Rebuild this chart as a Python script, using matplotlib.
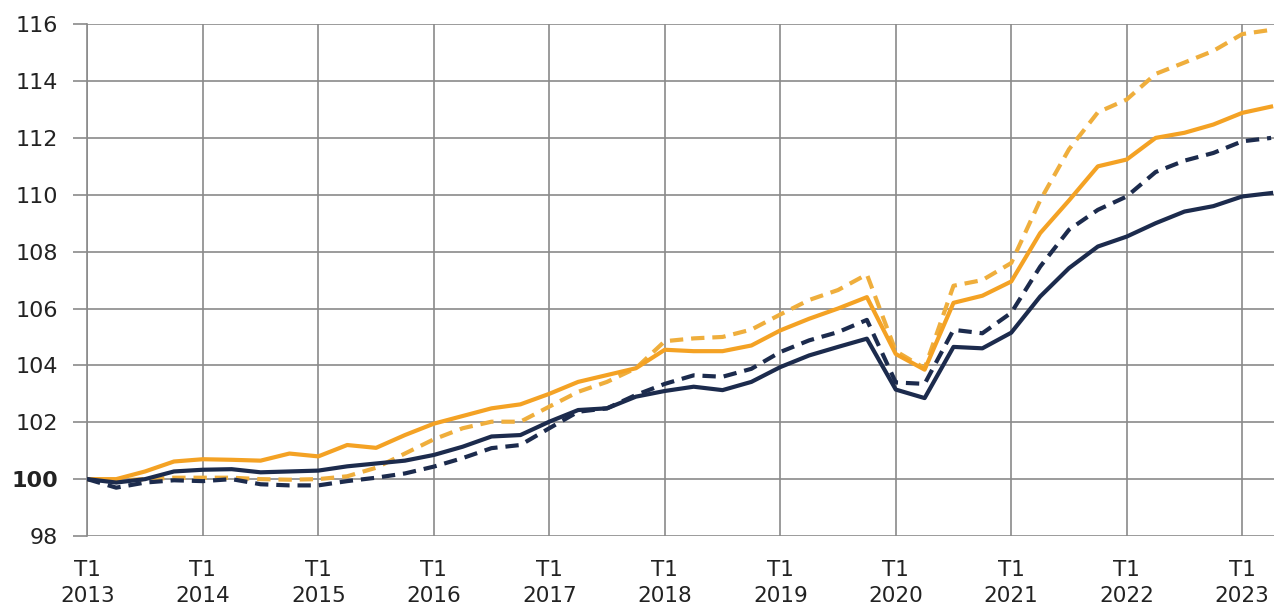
import matplotlib
matplotlib.use("Agg")
import matplotlib.pyplot as plt
import numpy as np

# Quarterly data, T1 2013 .. T2 2023
years = list(range(2013, 2024))
quarters = [f"T{q} {y}" for y in years for q in range(1, 5)][:42]

navy_solid = [100.0, 99.88, 100.0, 100.27,
              100.33, 100.35, 100.24, 100.27,
              100.3, 100.45, 100.55, 100.65,
              100.85, 101.14, 101.5, 101.55,
              102.02, 102.43, 102.49, 102.9,
              103.1, 103.25, 103.13, 103.42,
              103.94, 104.35, 104.65, 104.94,
              103.15, 102.85, 104.65, 104.6,
              105.15, 106.42, 107.42, 108.18,
              108.53, 109.0, 109.41, 109.6,
              109.94, 110.06]

navy_dashed = [100.0, 99.7, 99.88, 99.96,
               99.93, 100.0, 99.82, 99.78,
               99.78, 99.93, 100.05, 100.2,
               100.44, 100.74, 101.09, 101.2,
               101.79, 102.37, 102.49, 102.96,
               103.35, 103.65, 103.6, 103.88,
               104.47, 104.88, 105.17, 105.6,
               103.4, 103.35, 105.25, 105.13,
               105.85, 107.47, 108.77, 109.47,
               109.94, 110.8, 111.2, 111.47,
               111.88, 112.0]

orange_solid = [100.0, 100.0, 100.27, 100.62,
                100.7, 100.68, 100.65, 100.9,
                100.8, 101.2, 101.1, 101.55,
                101.95, 102.22, 102.49, 102.63,
                103.0, 103.42, 103.66, 103.9,
                104.55, 104.5, 104.5, 104.7,
                105.23, 105.64, 106.0, 106.4,
                104.4, 103.85, 106.2, 106.45,
                106.95, 108.65, 109.8, 111.0,
                111.24, 112.0, 112.18, 112.47,
                112.88, 113.1]

orange_dashed = [100.0, 99.95, 100.0, 100.05,
                 100.05, 100.05, 100.0, 99.98,
                 100.0, 100.1, 100.4, 100.9,
                 101.4, 101.79, 102.02, 102.02,
                 102.55, 103.07, 103.42, 103.9,
                 104.85, 104.95, 105.0, 105.26,
                 105.79, 106.3, 106.65, 107.2,
                 104.5, 103.9, 106.8, 107.0,
                 107.6, 109.8, 111.6, 112.9,
                 113.35, 114.25, 114.65, 115.06,
                 115.65, 115.8]

tick_labels = [f"T1\n{y}" for y in years]
y_ticks = list(range(98, 117, 2))

ORANGE = "#F4A224"
ORANGE_D = "#EFAE3C"
NAVY = "#1C2B4D"
GRID = "#8a8a8a"
TXT = "#222222"

fig = plt.figure(figsize=(12.75, 6.13), dpi=100)
ax = fig.add_axes([0.0685, 0.1256, 0.9307, 0.835])

x = np.arange(len(navy_solid))
ax.plot(x, orange_dashed, color=ORANGE_D, lw=3.0, dashes=(3.2, 1.9), zorder=3,
        solid_joinstyle="round")
ax.plot(x, orange_solid, color=ORANGE, lw=3.0, zorder=4)
ax.plot(x, navy_dashed, color=NAVY, lw=3.0, dashes=(3.2, 1.9), zorder=5)
ax.plot(x, navy_solid, color=NAVY, lw=3.0, zorder=6)

ax.set_xlim(0, 41.1)
ax.set_ylim(98, 116)

ax.set_xticks(np.arange(0, 41, 4))
ax.set_xticklabels(tick_labels, fontsize=15.5, color=TXT, linespacing=1.4)
ax.set_yticks(y_ticks)
ax.set_yticklabels([str(v) for v in y_ticks], fontsize=16, color=TXT)
for lab in ax.get_yticklabels():
    if lab.get_text() == "100":
        lab.set_fontweight("bold")

ax.tick_params(axis="x", length=0, pad=17)
ax.tick_params(axis="y", length=10, width=1.2, color=GRID, pad=11)

ax.grid(True, color=GRID, lw=1.2, zorder=0)
ax.set_axisbelow(True)
for s in ["top", "right", "bottom"]:
    ax.spines[s].set_visible(False)
ax.spines["left"].set_color(GRID)
ax.spines["left"].set_linewidth(1.2)

fig.savefig("out.png", dpi=100)
